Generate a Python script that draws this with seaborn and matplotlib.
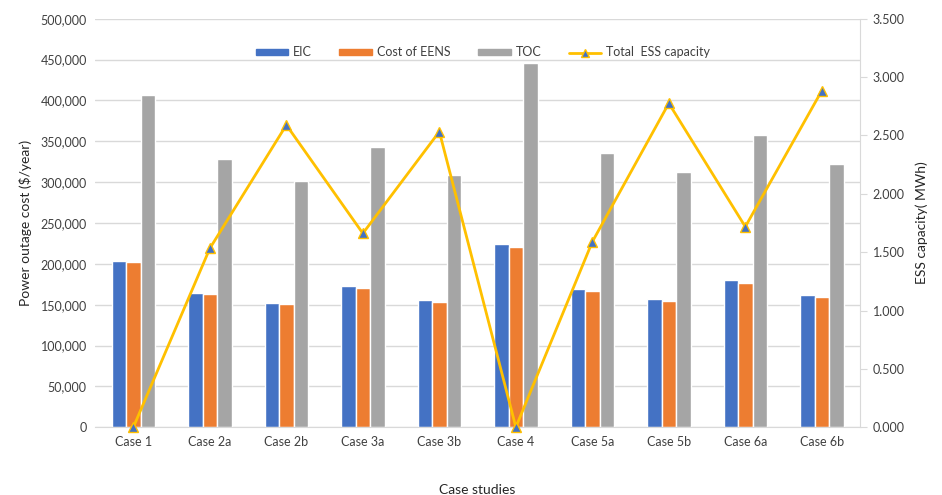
import matplotlib
matplotlib.use("Agg")
import matplotlib.pyplot as plt
from matplotlib.ticker import FuncFormatter, MultipleLocator
import seaborn as sns
import pandas as pd
import numpy as np

# 数据
cases = ["Case 1", "Case 2a", "Case 2b", "Case 3a", "Case 3b",
         "Case 4", "Case 5a", "Case 5b", "Case 6a", "Case 6b"]
eic = [204000, 164600, 151600, 172800, 155600, 223900, 168700, 156900, 180100, 161400]
eens = [202000, 163400, 150400, 170000, 153600, 221000, 166700, 154800, 176500, 159300]
toc = [407000, 328400, 301800, 342800, 308800, 445700, 336200, 312900, 357800, 321900]
ess_capacity = [0.0, 1.533, 2.590, 1.661, 2.533, 0.0, 1.589, 2.776, 1.718, 2.884]

series_names = ["EIC", "Cost of EENS", "TOC"]
colors = ["#4472C4", "#ED7D31", "#A5A5A5"]
line_color = "#FFC000"

df = pd.DataFrame({"case": cases, "EIC": eic, "Cost of EENS": eens, "TOC": toc})
long_df = df.melt(id_vars="case", value_vars=series_names, var_name="series", value_name="cost")

sns.set_style("white")
plt.rcParams["font.family"] = ["Lato", "DejaVu Sans"]
plt.rcParams["text.color"] = "#404040"
plt.rcParams["axes.labelcolor"] = "#262626"

fig, ax = plt.subplots(figsize=(9.42, 4.95), dpi=100)
fig.subplots_adjust(left=0.101, right=0.913, top=0.962, bottom=0.137)

sns.barplot(data=long_df, x="case", y="cost", hue="series", order=cases,
            hue_order=series_names, palette=colors, width=0.57, gap=0,
            saturation=1, ax=ax, legend=False, zorder=2)

ax.set_xlim(-0.5, len(cases) - 0.5)
ax.set_ylim(0, 500000)
ax.yaxis.set_major_locator(MultipleLocator(50000))
ax.yaxis.set_major_formatter(FuncFormatter(lambda v, p: f"{v:,.0f}"))
ax.grid(axis="y", color="#D9D9D9", linewidth=1, zorder=0)
ax.set_axisbelow(True)
for s in ["top", "left", "right"]:
    ax.spines[s].set_visible(False)
ax.spines["bottom"].set_color("#D9D9D9")
ax.tick_params(axis="both", length=0, labelsize=9, colors="#404040", pad=6)
ax.set_xlabel("Case studies", fontsize=10, labelpad=26)
ax.set_ylabel("Power outage cost ($/year)", fontsize=10, labelpad=6)

ax2 = ax.twinx()
ax2.plot(np.arange(len(cases)), ess_capacity, color=line_color, linewidth=2,
         marker="^", markersize=7, markerfacecolor="#4472C4",
         markeredgecolor=line_color, markeredgewidth=1, clip_on=False, zorder=3)
ax2.set_ylim(0, 3.5)
ax2.yaxis.set_major_locator(MultipleLocator(0.5))
ax2.yaxis.set_major_formatter(FuncFormatter(lambda v, p: f"{v:.3f}"))
for s in ["top", "left", "bottom"]:
    ax2.spines[s].set_visible(False)
ax2.spines["right"].set_color("#D9D9D9")
ax2.tick_params(axis="y", length=5, color="#D9D9D9", labelsize=9, colors="#404040", pad=4)
ax2.set_ylabel("ESS capacity( MWh)", fontsize=10, labelpad=8)
ax2.set_xlim(-0.5, len(cases) - 0.5)

# 图例
handles = [plt.Rectangle((0, 0), 1, 1, color=c) for c in colors]
handles.append(plt.Line2D([], [], color=line_color, linewidth=2, marker="^",
                          markersize=6, markerfacecolor="#4472C4", markeredgecolor=line_color))
labels = series_names + ["Total  ESS capacity"]
ax2.legend(handles, labels, loc="upper center", bbox_to_anchor=(0.507, 0.96),
           ncol=4, frameon=False, fontsize=9, handlelength=2.6, handleheight=0.35,
           columnspacing=2.2, handletextpad=0.4)

fig.savefig("out.png", dpi=100)
